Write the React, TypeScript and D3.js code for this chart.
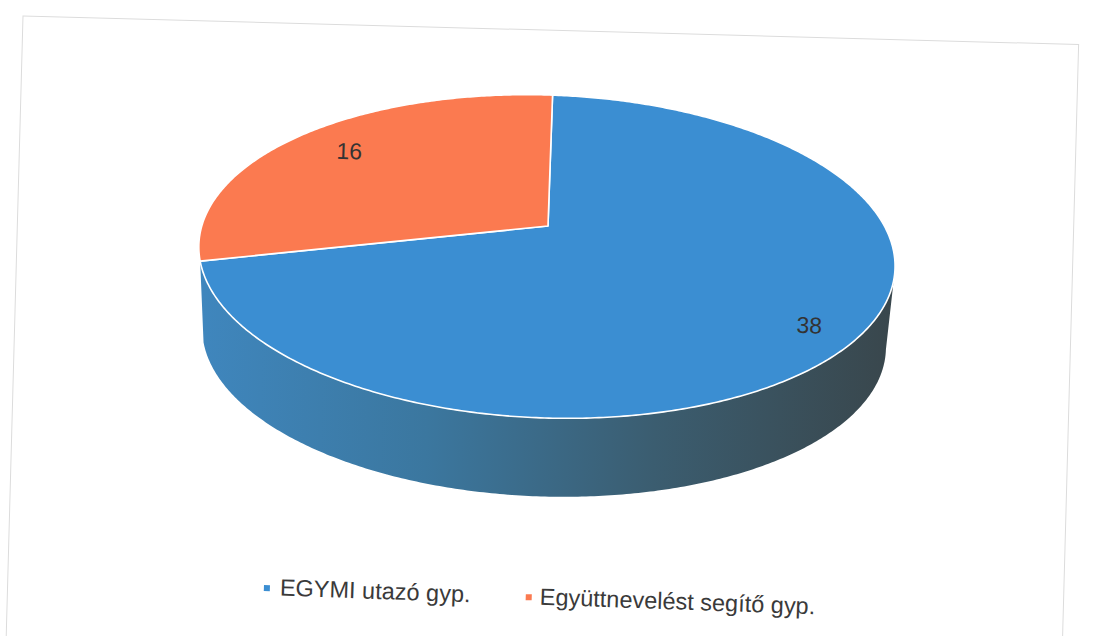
import React from 'react';
import * as d3 from 'd3';

// chart data
const categories = ['EGYMI utazó gyp.', 'Együttnevelést segítő gyp.'];
const values = [38, 16];
const topColors = ['#3b8ed2', '#fb7a50'];
const sideColors = [
  ['#3f86bd', '#3b779f', '#3b5d70', '#39474d'],
  ['#c85a35', '#b84f2e', '#9c4327', '#7f3820'],
];

const W = 1117;
const H = 636;

// pie geometry (perspective ellipse)
const CX = 548;
const CY = 226;
const RX = 342;
const RY = 155.7;
const K = 0.189;
const DEPTH = 82;
const BOT_SCALE = 0.982;
const ROT = 2;

const proj = (a: number, f = 1, bottom = false): [number, number] => {
  const u = Math.sin(a) * f;
  const v = Math.cos(a) * f;
  const w = 1 + K * v;
  const s = bottom ? BOT_SCALE : 1;
  return [(RX * u / w) * s, (-RY * v / w) * s + (bottom ? DEPTH : 0)];
};

const arcPts = (a0: number, a1: number, bottom = false) => {
  const n = Math.max(2, Math.ceil(Math.abs(a1 - a0) / 0.01));
  return d3.range(n + 1).map(i => proj(a0 + ((a1 - a0) * i) / n, 1, bottom));
};

const line = d3.line<[number, number]>();

export default function App() {
  const arcs = d3.pie<number>().sort(null).startAngle(0).endAngle(2 * Math.PI)(values);

  // visible front of the wall: between the right and left silhouette points
  const aR = Math.acos(-K);
  const aL = 2 * Math.PI - aR;

  const walls = arcs
    .map((d, i) => {
      const lo = Math.max(d.startAngle, aR);
      const hi = Math.min(d.endAngle, aL);
      if (hi - lo < 0.15) return null;
      const pts = [...arcPts(lo, hi), ...arcPts(hi, lo, true)];
      return { i, path: line(pts) + 'Z' };
    })
    .filter(Boolean) as { i: number; path: string }[];

  const tops = arcs.map((d, i) => ({
    i,
    path: line([[0, 0], ...arcPts(d.startAngle, d.endAngle)]) + 'Z',
  }));

  const labelR = [0.87, 0.8];
  const labels = arcs.map((d, i) => {
    const mid = (d.startAngle + d.endAngle) / 2;
    const [x, y] = proj(mid, labelR[i]);
    return { x, y, text: String(d.data) };
  });

  return (
    <div style={{ position: 'absolute', left: 0, top: 0 }}>
      <svg width={W} height={H} style={{ display: 'block', background: '#fff' }}>
        <defs>
          {sideColors.map((c, i) => (
            <linearGradient key={i} id={`side${i}`} gradientUnits="userSpaceOnUse" x1={-RX} y1={0} x2={RX} y2={0}>
              {c.map((col, j) => (
                <stop key={j} offset={j / (c.length - 1)} stopColor={col} />
              ))}
            </linearGradient>
          ))}
        </defs>

        <rect
          x={23}
          y={16}
          width={1056}
          height={640}
          fill="none"
          stroke="#dcdcdc"
          strokeWidth={1}
          transform="rotate(1.55, 23, 16)"
        />

        <g transform={`translate(${CX},${CY}) rotate(${ROT})`}>
          {walls.map(w => (
            <path key={'w' + w.i} d={w.path} fill={`url(#side${w.i})`} />
          ))}
          {tops.map(t => (
            <path
              key={'t' + t.i}
              d={t.path}
              fill={topColors[t.i]}
              stroke="#ffffff"
              strokeWidth={1.6}
              strokeLinejoin="round"
            />
          ))}
          {labels.map((l, i) => (
            <text
              key={'l' + i}
              x={l.x}
              y={l.y}
              dy="0.36em"
              textAnchor="middle"
              fontFamily="'Liberation Sans', Arial, sans-serif"
              fontSize={23}
              fill="#333"
            >
              {l.text}
            </text>
          ))}
        </g>

        <g transform={`translate(264,585) rotate(${ROT})`}>
          {categories.map((c, i) => (
            <g key={c} transform={`translate(${i * 262},0)`}>
              <rect x={0} y={0} width={6} height={6} fill={topColors[i]} />
              <text
                x={i === 0 ? 16 : 14}
                y={10}
                fontFamily="'Liberation Sans', Arial, sans-serif"
                fontSize={23.5}
                fill="#3a3a3a"
              >
                {c}
              </text>
            </g>
          ))}
        </g>
      </svg>
    </div>
  );
}
